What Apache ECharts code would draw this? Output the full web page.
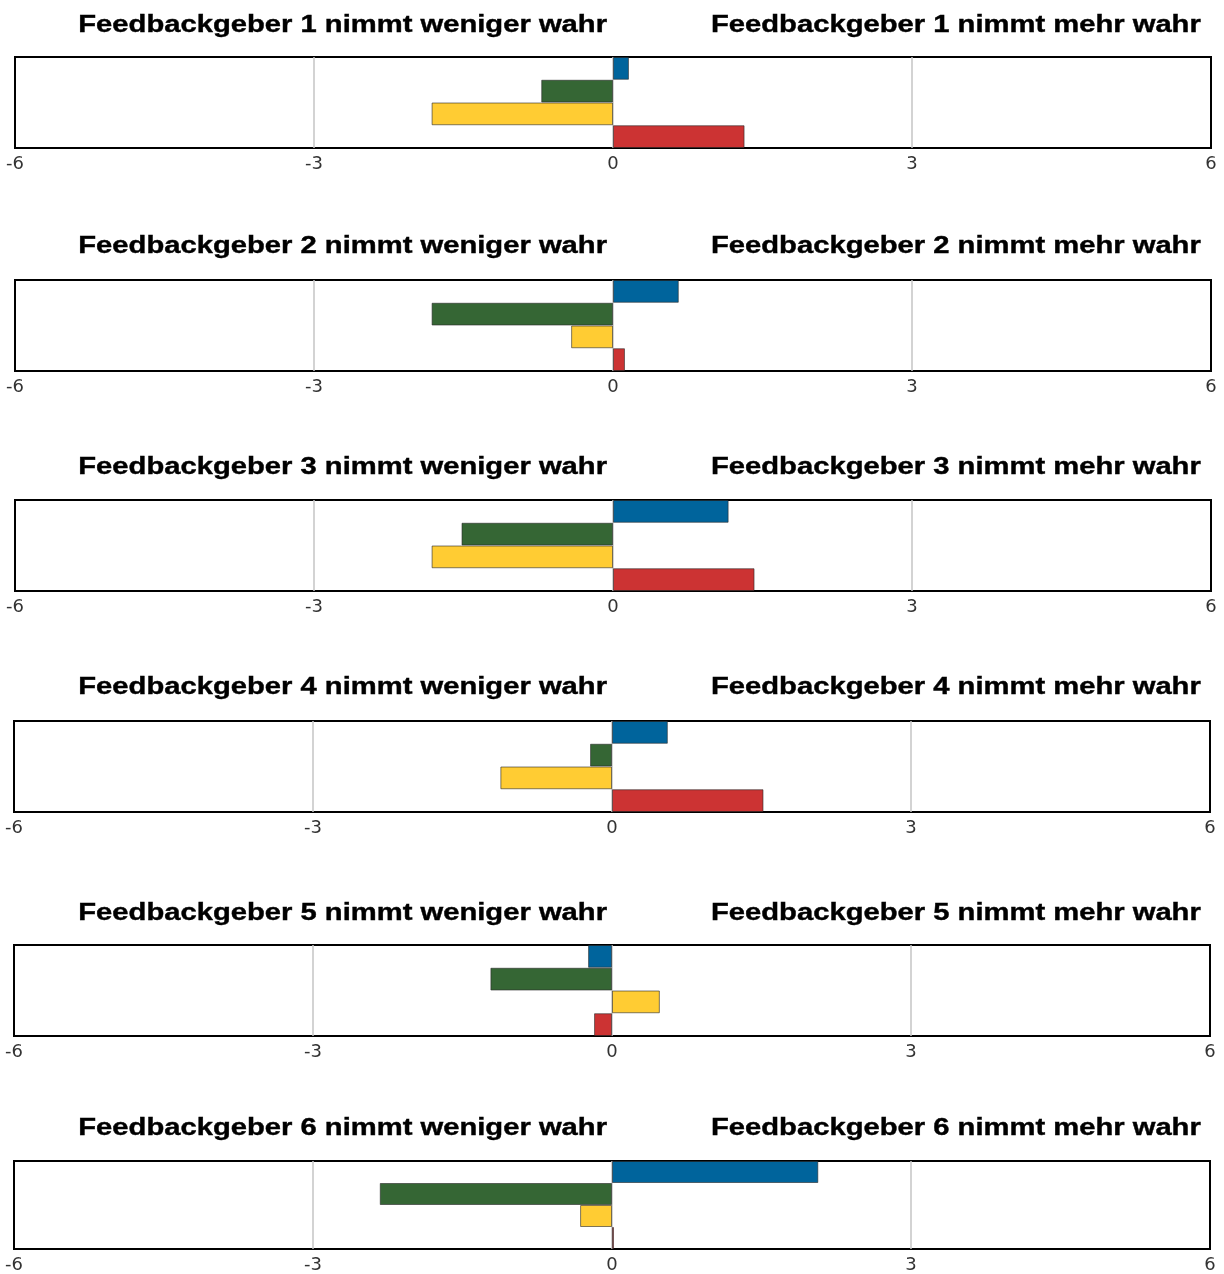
<!DOCTYPE html>
<html>
<head>
<meta charset="utf-8">
<script src="https://cdn.jsdelivr.net/npm/echarts@6/dist/echarts.min.js"></script>
<style>html,body{margin:0;padding:0;background:#fff;}#c{width:1224px;height:1274px;}</style>
</head>
<body>
<div id="c"></div>
<script>
// ---- data ----
const panelNames = ['Feedbackgeber 1','Feedbackgeber 2','Feedbackgeber 3','Feedbackgeber 4','Feedbackgeber 5','Feedbackgeber 6'];
const leftSuffix = 'nimmt weniger wahr';
const rightSuffix = 'nimmt mehr wahr';
const barCategories = ['blau','grün','gelb','rot'];
const blue   = [0.16, 0.66, 1.16, 0.56, -0.24, 2.07];
const green  = [-0.72, -1.82, -1.52, -0.22, -1.22, -2.33];
const yellow = [-1.82, -0.42, -1.82, -1.12, 0.48, -0.32];
const red    = [1.32, 0.12, 1.42, 1.52, -0.18, 0.02];
const xTicks = [-6, -3, 0, 3, 6];

// ---- layout / style ----
const colors = ['#00649C', '#356634', '#FFCC33', '#CC3333'];
const gridTops = [57, 280, 500, 721, 945, 1161];
const gridLefts = [15, 15, 15, 14, 14, 14];
const titleYs = [25, 246, 467, 687, 913, 1128];
const gridH = 91, gridW = 1196;

const grids = [], xAxes = [], yAxes = [], series = [], graphics = [];
for (let i = 0; i < panelNames.length; i++) {
  grids.push({left: gridLefts[i], top: gridTops[i], width: gridW, height: gridH,
    show: true, borderColor: '#000', borderWidth: 2, backgroundColor: '#fff'});
  xAxes.push({gridIndex: i, type: 'value', min: xTicks[0], max: xTicks[xTicks.length-1], interval: 3,
    axisLine: {show: false}, axisTick: {show: false},
    splitLine: {show: true, showMinLine: false, showMaxLine: false, lineStyle: {color: '#c4c4c4', width: 1.5}},
    axisLabel: {show: true, margin: 7, color: '#333', fontFamily: 'DejaVu Sans', fontSize: 18}});
  yAxes.push({gridIndex: i, type: 'category', data: barCategories, inverse: true,
    axisLine: {show: false}, axisTick: {show: false}, axisLabel: {show: false}, splitLine: {show: false}});
  const vals = [blue[i], green[i], yellow[i], red[i]];
  series.push({type: 'bar', xAxisIndex: i, yAxisIndex: i, barCategoryGap: '0%', animation: false,
    data: vals.map((v, k) => ({value: v, itemStyle: {color: colors[k], borderColor: 'rgba(40,40,40,0.6)', borderWidth: 1}}))});
  graphics.push({type: 'text', x: 607, y: titleYs[i], scaleX: 1.216,
    style: {text: panelNames[i] + ' ' + leftSuffix, x: 0, y: 0, align: 'right', verticalAlign: 'middle',
      font: 'bold 24px "Liberation Sans", Arial, sans-serif', fill: '#000', stroke: '#000', lineWidth: 0.4}});
  graphics.push({type: 'text', x: 711, y: titleYs[i], scaleX: 1.216,
    style: {text: panelNames[i] + ' ' + rightSuffix, x: 0, y: 0, align: 'left', verticalAlign: 'middle',
      font: 'bold 24px "Liberation Sans", Arial, sans-serif', fill: '#000', stroke: '#000', lineWidth: 0.4}});
}

const chart = echarts.init(document.getElementById('c'), null, {renderer: 'canvas'});
chart.setOption({
  backgroundColor: '#fff',
  animation: false,
  grid: grids, xAxis: xAxes, yAxis: yAxes, series: series,
  graphic: graphics
});
</script>
</body>
</html>
